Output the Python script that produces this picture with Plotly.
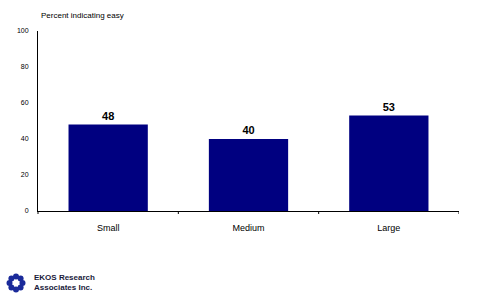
import plotly.graph_objects as go
import math

categories = ["Small", "Medium", "Large"]
values = [48, 40, 53]
y_ticks = [0, 20, 40, 60, 80, 100]

W, H = 480, 298
L, R, T, B = 38, 459, 31, 211

def px(x):
    return (x - L) / (R - L)

def py(y):
    return (B - y) / (B - T)

fig = go.Figure()
fig.add_trace(go.Bar(
    x=categories, y=values, marker=dict(color="#000080", line=dict(width=0)),
    width=0.565, text=["<b>%d</b>" % v for v in values], textposition="outside",
    textfont=dict(family="Liberation Sans, Arial", size=11, color="#000000"),
    cliponaxis=False,
))

fig.update_layout(
    width=W, height=H, margin=dict(l=L, r=W - R, t=T, b=H - B),
    paper_bgcolor="white", plot_bgcolor="white", showlegend=False,
    font=dict(family="Liberation Sans, Arial", size=7, color="#000000"),
    xaxis=dict(showline=True, linecolor="black", linewidth=1, ticks="",
               tickfont=dict(size=9), showgrid=False, zeroline=False,
               range=[-0.5, 2.5], ticklabelstandoff=8),
    yaxis=dict(range=[0, 100], tickvals=y_ticks, showline=True, linecolor="black",
               linewidth=1, showgrid=False, zeroline=False, ticks="",
               tickfont=dict(size=7), ticklabelstandoff=7),
)

# category boundary ticks on x axis
for xb in [0.5, 1.5, 2.5]:
    fig.add_shape(type="line", xref="x", yref="paper", x0=xb, x1=xb, y0=0, y1=py(214),
                  line=dict(color="black", width=1))
# small extension of y axis below x axis
fig.add_shape(type="line", xref="paper", yref="paper", x0=0, x1=0, y0=0, y1=py(214),
              line=dict(color="black", width=1))

fig.add_annotation(text="Percent indicating easy", xref="paper", yref="paper",
                   x=px(39), y=py(22), xanchor="left", yanchor="bottom",
                   showarrow=False, font=dict(size=8, color="#000000"))

# logo text
fig.add_annotation(text="<b>EKOS Research<br>Associates Inc.</b>", xref="paper", yref="paper",
                   x=px(32), y=py(271), xanchor="left", yanchor="top", showarrow=False,
                   align="left", font=dict(size=8, color="#1a1a3a"))

# logo icon: ring of dots
cx, cy, rr = 16, 283, 6.5
for k in range(8):
    a = 2 * math.pi * k / 8
    x = cx + rr * math.cos(a)
    y = cy + rr * math.sin(a)
    fig.add_shape(type="circle", xref="paper", yref="paper",
                  x0=px(x - 3), x1=px(x + 3), y0=py(y + 3), y1=py(y - 3),
                  fillcolor="#1a2a9a", line=dict(width=0))

fig.write_html("out.html")
